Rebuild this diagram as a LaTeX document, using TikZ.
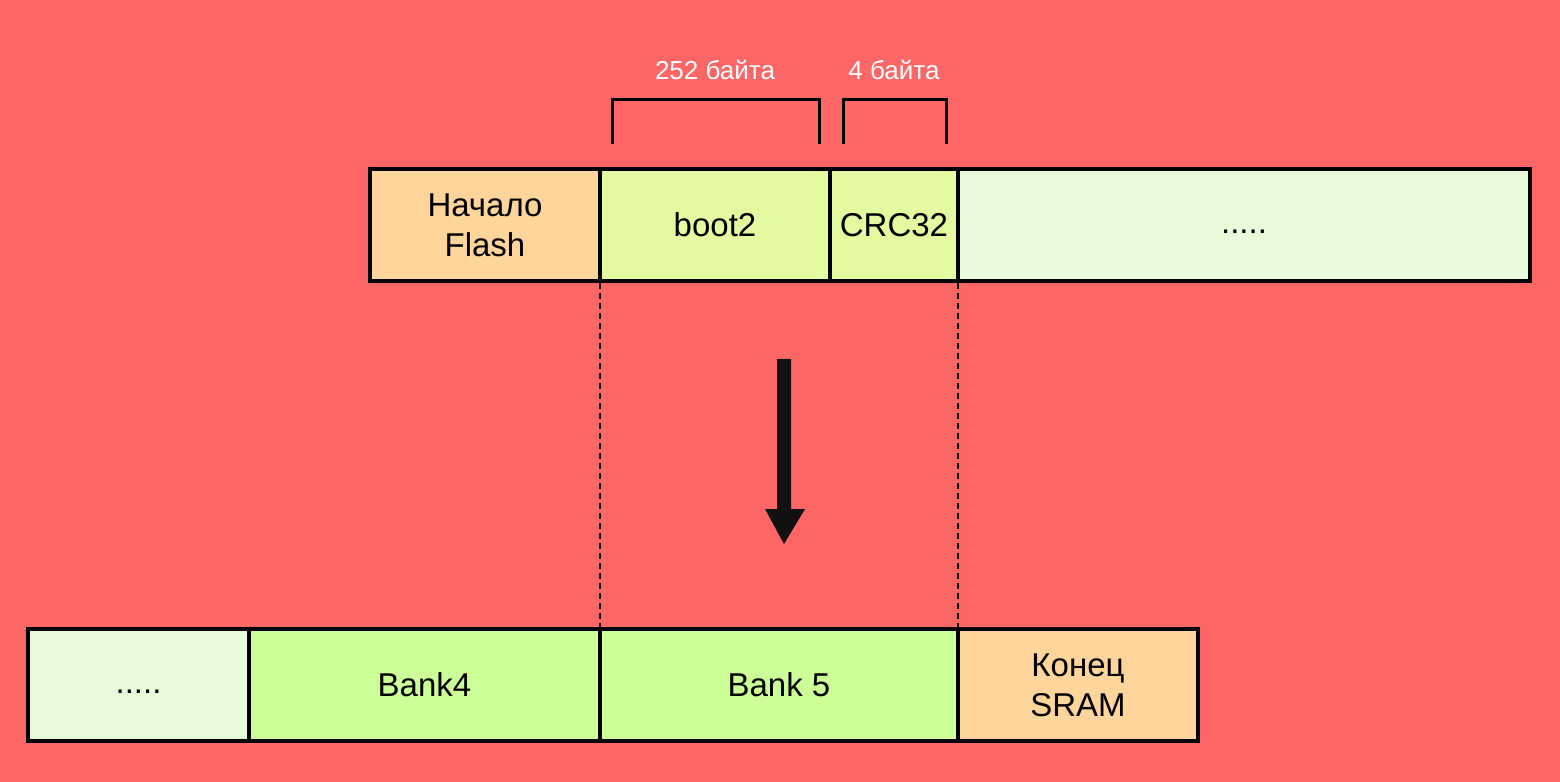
\documentclass[tikz,border=0pt]{standalone}
\usepackage{fontspec}
\setmainfont{Liberation Sans}
\definecolor{bgred}{HTML}{FF6666}
\definecolor{orangefill}{HTML}{FFD59B}
\definecolor{yellowgreen}{HTML}{E3FAA0}
\definecolor{bankgreen}{HTML}{CDFF99}
\definecolor{palegreen}{HTML}{E9FADA}
\definecolor{arrowblack}{HTML}{111111}
\tikzset{
  cell/.style={draw=black, line width=2pt, minimum height=56pt, inner sep=0pt,
    align=center, font=\fontsize{16.5}{20}\selectfont},
  bracketline/.style={draw=black, line width=1.5pt},
  guide/.style={draw=black, line width=0.7pt, dash pattern=on 3pt off 2pt},
  sizelabel/.style={text=white, font=\fontsize{13}{15}\selectfont, inner sep=0pt}
}
\begin{document}
\begin{tikzpicture}[x=0.5pt,y=-0.5pt]
\fill[bgred] (0,0) rectangle (1560,782);
\useasboundingbox (0,0) rectangle (1560,782);
% top row
\node[cell, fill=orangefill, minimum width=115pt] (flash) at (485,225) {Начало\\Flash};
\node[cell, fill=yellowgreen, minimum width=115pt] (boot) at (715,225) {boot2};
\node[cell, fill=yellowgreen, minimum width=64pt] (crc) at (894,225) {CRC32};
\node[cell, fill=palegreen, minimum width=286pt] (topdots) at (1244,225) {\smash{\raisebox{-4pt}{.....}}};
% bottom row
\node[cell, fill=palegreen, minimum width=110.5pt] (botdots) at (138.5,685) {\smash{\raisebox{-4pt}{.....}}};
\node[cell, fill=bankgreen, minimum width=175.5pt] (bankfour) at (424.5,685) {Bank4};
\node[cell, fill=bankgreen, minimum width=179pt] (bankfive) at (779,685) {Bank 5};
\node[cell, fill=orangefill, minimum width=120pt] (sram) at (1078,685) {Конец\\SRAM};
% guides
\draw[guide] ([xshift=1pt]boot.south west) -- ([xshift=1pt]bankfive.north west);
\draw[guide] ([xshift=-1pt]crc.south east) -- ([xshift=-1pt]bankfive.north east);
% brackets
\coordinate (ba) at (612,144); \coordinate (bb) at (612,99);
\coordinate (bc) at (819,99); \coordinate (bd) at (819,144);
\draw[bracketline] (ba) -- (bb) -- (bc) -- (bd);
\coordinate (ca) at (843,144); \coordinate (cb) at (843,99);
\coordinate (cc) at (946,99); \coordinate (cd) at (946,144);
\draw[bracketline] (ca) -- (cb) -- (cc) -- (cd);
\node[sizelabel] (lbig) at (715,70) {252 байта};
\node[sizelabel] (lsmall) at (894,70) {4 байта};
% arrow
\coordinate (a1) at (777,359); \coordinate (a2) at (791,359);
\coordinate (a3) at (791,509); \coordinate (a4) at (805,509);
\coordinate (a5) at (784,544); \coordinate (a6) at (765,509);
\coordinate (a7) at (777,509);
\fill[arrowblack] (a1) -- (a2) -- (a3) -- (a4) -- (a5) -- (a6) -- (a7) -- cycle;
\end{tikzpicture}
\end{document}
